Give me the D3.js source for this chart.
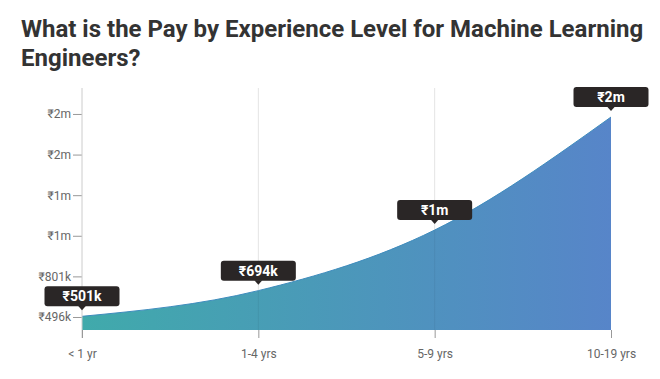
<!DOCTYPE html>
<html>
<head>
<meta charset="utf-8">
<script src="https://cdn.jsdelivr.net/npm/d3@7"></script>
<style>
  html, body { margin: 0; padding: 0; background: #fff; }
  svg { display: block; font-family: Roboto, "Noto Sans", sans-serif; }
</style>
</head>
<body>
<svg id="chart" width="660" height="379"></svg>
<script>
const titleLines = ["What is the Pay by Experience Level for Machine Learning", "Engineers?"];
const categories = ["< 1 yr", "1-4 yrs", "5-9 yrs", "10-19 yrs"];
const payValues = [501000, 694000, 1149000, 1998000];
const yTickValues = [496000, 801000, 1106000, 1411000, 1716000, 2021000];

const fmt = v => v >= 1e6 ? "₹" + Math.round(v / 1e6) + "m" : "₹" + Math.round(v / 1000) + "k";

const svg = d3.select("#chart");
const W = 660, H = 379;
const m = { left: 82, right: 49, top: 88, bottom: 49 };

// title
const title = svg.append("text")
  .attr("x", 21).attr("y", 37)
  .attr("fill", "#333").attr("font-size", 24).attr("font-weight", 700);
titleLines.forEach((t, i) => title.append("tspan").attr("x", 21).attr("dy", i ? 29 : 0).text(t));

const x = d3.scalePoint().domain(categories).range([m.left, W - m.right]);
const y = d3.scaleLinear().domain([398300, 2216000]).range([H - m.bottom, m.top]);

const data = categories.map((c, i) => ({ c, v: payValues[i] }));

// gradient
const defs = svg.append("defs");
const grad = defs.append("linearGradient").attr("id", "g").attr("x1", "0").attr("x2", "1").attr("y1", "0").attr("y2", "0");
grad.append("stop").attr("offset", "0%").attr("stop-color", "#40aaab");
grad.append("stop").attr("offset", "100%").attr("stop-color", "#5785c9");

// vertical gridlines
svg.append("g").selectAll("line").data(categories.slice(1, 3)).join("line")
  .attr("x1", d => x(d)).attr("x2", d => x(d))
  .attr("y1", m.top).attr("y2", H - m.bottom)
  .attr("stroke", "#e4e4e4").attr("stroke-width", 1);

// area
const area = d3.area().x(d => x(d.c)).y0(y.range()[0]).y1(d => y(d.v)).curve(d3.curveMonotoneX);
const line = d3.line().x(d => x(d.c)).y(d => y(d.v)).curve(d3.curveMonotoneX);
svg.append("path").datum(data).attr("d", area).attr("fill", "url(#g)");
svg.append("path").datum(data).attr("d", line).attr("fill", "none").attr("stroke", "#3f8cbd").attr("stroke-width", 1);

// gridlines over area (subtle)
svg.append("g").selectAll("line").data(categories.slice(1, 3)).join("line")
  .attr("x1", d => x(d)).attr("x2", d => x(d))
  .attr("y1", d => y(payValues[categories.indexOf(d)])).attr("y2", H - m.bottom)
  .attr("stroke", "#000").attr("stroke-opacity", 0.06);

// y axis
const yAxis = d3.axisLeft(y).tickValues(yTickValues).tickFormat(fmt).tickSize(9).tickPadding(2);
const gy = svg.append("g").attr("transform", `translate(${m.left},0)`).call(yAxis);
gy.select(".domain").remove();
gy.selectAll(".tick line").attr("stroke", "#999");
gy.selectAll(".tick text").attr("fill", "#666").attr("font-size", 12).attr("font-family", "Roboto, sans-serif");
svg.append("line").attr("x1", m.left).attr("x2", m.left).attr("y1", m.top).attr("y2", H - m.bottom + 8)
  .attr("stroke", "#ccc");

// x axis
const xAxis = d3.axisBottom(x).tickSize(8).tickPadding(11);
const gx = svg.append("g").attr("transform", `translate(0,${H - m.bottom})`).call(xAxis);
gx.select(".domain").remove();
gx.selectAll(".tick line").attr("stroke", "#999");
gx.selectAll(".tick text").attr("fill", "#666").attr("font-size", 12).attr("font-family", "Roboto, sans-serif");

// labels
const lab = svg.append("g").selectAll("g").data(data).join("g")
  .attr("transform", d => `translate(${x(d.c)},${y(d.v)})`);
lab.append("rect").attr("x", -37.5).attr("y", -30).attr("width", 75).attr("height", 20).attr("rx", 3)
  .attr("fill", "#2a2626");
lab.append("path").attr("d", "M-4,-10.5 L0,-6 L4,-10.5 Z").attr("fill", "#2a2626");
lab.append("text").attr("y", -15).attr("text-anchor", "middle")
  .attr("fill", "#fff").attr("font-size", 14).attr("font-weight", 700)
  .text(d => fmt(d.v));
</script>
</body>
</html>
